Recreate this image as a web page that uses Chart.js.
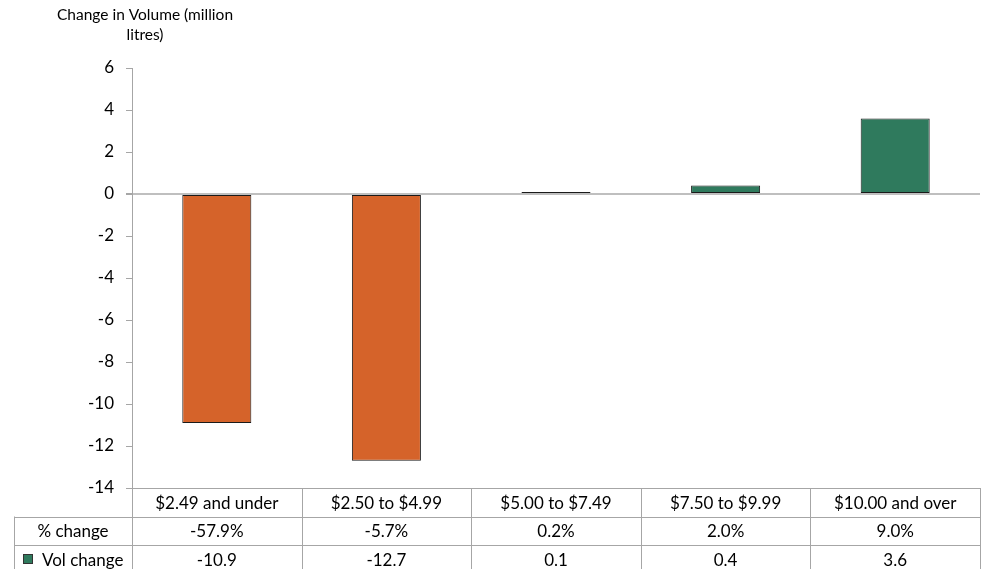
<!DOCTYPE html>
<html>
<head>
<meta charset="utf-8">
<script src="https://cdn.jsdelivr.net/npm/chart.js@4"></script>
<style>
  html, body { margin: 0; padding: 0; background: #fff; }
  #wrap { position: relative; width: 988px; height: 569px; }
</style>
</head>
<body>
<div id="wrap"><canvas id="volChart"></canvas></div>
<script>
// Price bands and the two table rows
const categories = ['$2.49 and under', '$2.50 to $4.99', '$5.00 to $7.49', '$7.50 to $9.99', '$10.00 and over'];
const volChange = [-10.9, -12.7, 0.1, 0.4, 3.6];
const pctChange = ['-57.9%', '-5.7%', '0.2%', '2.0%', '9.0%'];
const yTicks = [6, 4, 2, 0, -2, -4, -6, -8, -10, -12, -14];

const fontName = 'Lato';
const gridGray = '#a6a6a6';
const posColor = '#2f7a5d';
const negColor = '#d5632a';
const tableLeft = 14;
const rowH = 28.5;

// draws the data table under the plot area (category header + two rows)
const dataTablePlugin = {
    id: 'dataTable',
    afterDraw(chart) {
        const ctx = chart.ctx;
        const area = chart.chartArea;
        const x = chart.scales.x;
        const top = Math.round(area.bottom);
        const n = categories.length;
        const colW = (area.right - area.left) / n;
        ctx.save();
        ctx.strokeStyle = gridGray;
        ctx.lineWidth = 1;
        ctx.beginPath();
        // header row
        ctx.moveTo(area.left, top + 0.5);
        ctx.lineTo(area.right, top + 0.5);
        for (let r = 1; r <= 3; r++) {
            const ry = Math.round(top + rowH * r) + 0.5;
            ctx.moveTo(tableLeft, ry);
            ctx.lineTo(area.right, ry);
        }
        // verticals
        ctx.moveTo(tableLeft + 0.5, top + rowH);
        ctx.lineTo(tableLeft + 0.5, top + rowH * 3);
        for (let i = 0; i <= n; i++) {
            const vx = Math.round(area.left + colW * i) + 0.5;
            ctx.moveTo(vx, top);
            ctx.lineTo(vx, top + rowH * 3);
        }
        ctx.stroke();

        ctx.fillStyle = '#000';
        ctx.font = '17px ' + fontName;
        ctx.textAlign = 'center';
        ctx.textBaseline = 'middle';
        for (let i = 0; i < n; i++) {
            const cx = x.getPixelForValue(i);
            ctx.fillText(categories[i], cx, top + rowH * 0.5 + 1);
            ctx.fillText(pctChange[i], cx, top + rowH * 1.5 + 1);
            ctx.fillText(volChange[i].toFixed(1), cx, top + rowH * 2.5 + 1);
        }
        const labelCx = (tableLeft + area.left) / 2;
        ctx.fillText('% change', labelCx, top + rowH * 1.5 + 1);
        // legend key for the series row
        const keyW = ctx.measureText('Vol change').width;
        const groupW = 10 + 9 + keyW;
        const gx = Math.round(labelCx - groupW / 2);
        const ky = Math.round(top + rowH * 2.5 - 5);
        ctx.fillStyle = posColor;
        ctx.fillRect(gx, ky, 10, 10);
        ctx.strokeStyle = '#333';
        ctx.strokeRect(gx + 0.5, ky + 0.5, 9, 9);
        ctx.fillStyle = '#000';
        ctx.textAlign = 'left';
        ctx.fillText('Vol change', gx + 19, top + rowH * 2.5 + 1);

        // axis title
        ctx.font = '15.5px ' + fontName;
        ctx.textAlign = 'center';
        ctx.fillText('Change in Volume (million', 145, 15);
        ctx.fillText('litres)', 145, 35);
        ctx.restore();
    }
};

new Chart(document.getElementById('volChart').getContext('2d'), {
    type: 'bar',
    data: {
        labels: categories,
        datasets: [{
            label: 'Vol change',
            data: volChange,
            backgroundColor: volChange.map(v => v < 0 ? negColor : posColor),
            borderColor: '#1a1a1a',
            borderWidth: 1,
            borderSkipped: false,
            barPercentage: 0.407,
            categoryPercentage: 1.0
        }]
    },
    options: {
        responsive: true,
        maintainAspectRatio: false,
        animation: false,
        layout: { padding: { left: 0, right: 8, top: 68, bottom: 81 } },
        plugins: {
            legend: { display: false },
            tooltip: { enabled: false }
        },
        scales: {
            x: { display: false },
            y: {
                min: -14,
                max: 6,
                afterBuildTicks: scale => { scale.ticks = yTicks.map(v => ({ value: v })); },
                afterFit: scale => { scale.width = 132; },
                border: { display: true, color: gridGray, width: 1 },
                grid: {
                    color: c => (c.tick && c.tick.value === 0) ? '#bfbfbf' : 'transparent',
                    lineWidth: c => (c.tick && c.tick.value === 0) ? 2 : 1,
                    tickColor: gridGray,
                    tickLength: 6,
                    drawTicks: true
                },
                ticks: {
                    color: '#000',
                    font: { family: fontName, size: 17 },
                    padding: 12
                }
            }
        }
    },
    plugins: [dataTablePlugin]
});
</script>
</body>
</html>
